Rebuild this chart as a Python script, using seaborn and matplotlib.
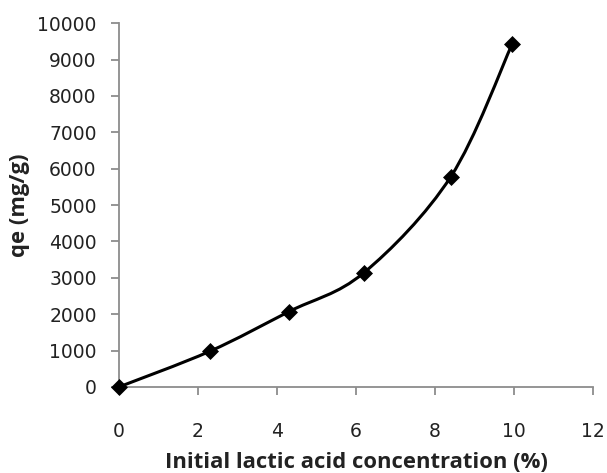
import matplotlib
matplotlib.use("Agg")
import matplotlib.pyplot as plt
import numpy as np
import pandas as pd
import seaborn as sns
from matplotlib.path import Path
from matplotlib.patches import PathPatch

# values
concentration = [0.0, 2.3, 4.3, 6.2, 8.4, 9.95]
qe = [0, 980, 2070, 3140, 5780, 9420]
x_ticks = [0, 2, 4, 6, 8, 10, 12]
y_ticks = list(range(0, 10001, 1000))

df = pd.DataFrame({"conc": concentration, "qe": qe})

sns.set_theme(style="white")
plt.rcParams["font.family"] = ["DejaVu Sans"]

fig = plt.figure(figsize=(6.07, 4.73), dpi=100)
ax = fig.add_axes([0.196, 0.182, 0.781, 0.769])


def smooth_path(xs, ys):
    # Excel-like smoothed line: Catmull-Rom segments as cubic Beziers
    pts = np.column_stack([xs, ys]).astype(float)
    n = len(pts)
    verts = [pts[0]]
    codes = [Path.MOVETO]
    for i in range(n - 1):
        p0 = pts[i - 1] if i > 0 else pts[i]
        p1, p2 = pts[i], pts[i + 1]
        p3 = pts[i + 2] if i + 2 < n else pts[i + 1]
        c1 = p1 + (p2 - p0) / 6.0
        c2 = p2 - (p3 - p1) / 6.0
        verts += [c1, c2, p2]
        codes += [Path.CURVE4] * 3
    return Path(verts, codes)


ax.add_patch(PathPatch(smooth_path(df["conc"], df["qe"]), fill=False,
                       edgecolor="black", lw=2.2, zorder=2, capstyle="round"))
sns.scatterplot(data=df, x="conc", y="qe", marker="D", s=75, color="black",
                edgecolor="black", linewidth=0, zorder=3, ax=ax, clip_on=False)

ax.set_xlim(0, 12)
ax.set_ylim(0, 10000)
ax.set_xticks(x_ticks)
ax.set_yticks(y_ticks)
ax.set_xticklabels([str(t) for t in x_ticks])
ax.set_yticklabels([str(t) for t in y_ticks])

for side in ["top", "right"]:
    ax.spines[side].set_visible(False)
for side in ["left", "bottom"]:
    ax.spines[side].set_color("#8c8c8c")
    ax.spines[side].set_linewidth(1.3)

ax.tick_params(axis="both", direction="out", length=6, width=1.3, color="#8c8c8c",
               labelsize=13.5, labelcolor="#222222")
ax.tick_params(axis="x", pad=19, bottom=True)
ax.tick_params(axis="y", pad=10, left=True)

label_font = {"family": ["Open Sans", "DejaVu Sans"], "size": 15.8,
              "weight": "bold", "color": "#222222"}
ax.set_xlabel("Initial lactic acid concentration (%)", fontdict=label_font, labelpad=8)
ax.set_ylabel("qe (mg/g)", fontdict=label_font, labelpad=5)

fig.savefig("out.png", dpi=100)
